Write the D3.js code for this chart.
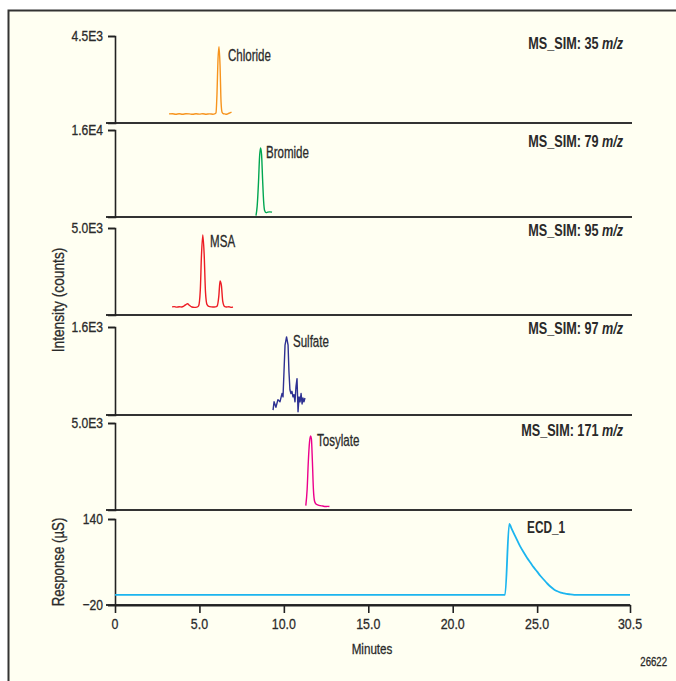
<!DOCTYPE html>
<html><head><meta charset="utf-8">
<script src="https://cdn.jsdelivr.net/npm/d3@7"></script>
<style>
html,body{margin:0;padding:0;background:#fff;}
svg{display:block;}
text{font-family:"Liberation Sans",Arial,sans-serif;fill:#2a2a2a;}
text.reg{stroke:#2a2a2a;stroke-width:0.3px;}
</style></head>
<body>
<svg id="chart" width="676" height="681"></svg>
<script>
// ---------- data ----------
const xTickValues = [0, 5, 10, 15, 20, 25, 30.5];
const xTickLabels = ["0", "5.0", "10.0", "15.0", "20.0", "25.0", "30.5"];

const panelNames = ["Chloride", "Bromide", "MSA", "Sulfate", "Tosylate", "ECD"];
const panelTitles = ["MS_SIM: 35", "MS_SIM: 79", "MS_SIM: 95", "MS_SIM: 97", "MS_SIM: 171", "ECD_1"];
const yMaxLabels = ["4.5E3", "1.6E4", "5.0E3", "1.6E3", "5.0E3", "140"];
const yMinLabels = ["", "", "", "", "", "\u221220"];
const yDomains = [[0, 4500], [0, 16000], [0, 5000], [0, 1600], [0, 5000], [-20, 140]];
const peakLabels = ["Chloride", "Bromide", "MSA", "Sulfate", "Tosylate", ""];
const peakLabelPos = [[6.69, 3520], [8.94, 11950], [5.63, 4250], [10.54, 1345], [11.96, 4020], null];

const chlorideT = [3.2,3.4,3.6,3.8,4.0,4.2,4.4,4.6,4.8,5.0,5.2,5.4,5.6,5.8,5.9,5.98,6.04,6.1,6.16,6.22,6.28,6.34,6.42,6.5,6.6,6.7,6.8,6.9];
const chlorideV = [470,480,455,475,455,480,470,450,475,460,480,455,470,455,470,520,1500,3300,3950,3000,1100,560,480,470,450,490,520,560];

const bromideT = [8.35,8.42,8.5,8.56,8.62,8.68,8.74,8.8,8.86,8.95,9.05,9.15,9.3];
const bromideV = [250,2000,6500,11000,12700,11500,7000,3000,1200,800,900,950,900];

const msaT = [3.38,3.5,3.65,3.8,3.95,4.1,4.2,4.3,4.4,4.55,4.7,4.85,4.95,5.05,5.12,5.2,5.28,5.36,5.45,5.6,5.8,5.95,6.05,6.15,6.22,6.3,6.38,6.48,6.6,6.75,6.9,6.98];
const msaV = [470,480,450,470,460,530,600,650,560,460,440,450,520,1400,3400,4600,3500,1300,600,480,460,470,520,1100,1950,1700,800,500,460,470,440,470];

const sulfateT = [9.36,9.42,9.53,9.65,9.77,9.89,9.95,10.01,10.07,10.16,10.25,10.3,10.36,10.42,10.48,10.54,10.6,10.66,10.72,10.78,10.84,10.9,10.96,11.02,11.08,11.13,11.19,11.25];
const sulfateV = [90,240,140,280,240,390,330,800,1270,1420,1270,800,460,390,430,330,370,240,520,660,60,330,240,390,200,310,240,310];

const tosylateT = [11.3,11.38,11.45,11.52,11.58,11.63,11.69,11.75,11.82,11.9,12.0,12.15,12.3,12.45,12.6,12.7];
const tosylateV = [250,1200,2800,3900,4250,4100,2800,1200,500,350,300,250,230,200,210,200];

const ecdT = [0, 23.1, 23.35, 23.5, 23.7, 23.98, 24.2, 24.4, 24.6, 24.8, 25.0, 25.2, 25.4, 25.6, 25.8, 26.0, 26.2, 26.4, 26.6, 26.9, 27.2, 30.5];
const ecdV = [-1, -1, 131, 121, 108, 90, 78, 68, 59, 50, 42, 34, 27, 20, 14, 9, 5.5, 3, 1.5, 0, -1, -1];

const seriesT = [chlorideT, bromideT, msaT, sulfateT, tosylateT, ecdT];
const seriesV = [chlorideV, bromideV, msaV, sulfateV, tosylateV, ecdV];
const seriesColors = ["#f7941d", "#00a651", "#ed1c24", "#2e3192", "#ec008c", "#1cb5ef"];

// ---------- layout ----------
const svg = d3.select("#chart");
const x0 = 115, x1 = 630;
const panelTop = [36, 130, 228, 327, 423, 519];
const panelBottom = [123, 217, 315, 415, 510, 605];
const titleY = [43, 141, 230, 328, 430, 527];

function ctext(parent, px, py, str, size, sx, anchor, bold, rotate) {
  const t = parent.append("text")
    .attr("transform", `translate(${px},${py})` + (rotate ? " rotate(-90)" : "") + ` scale(${sx},1)`)
    .attr("dy", "0.35em").attr("text-anchor", anchor || "start")
    .style("font-size", size + "px");
  if (bold) t.style("font-weight", "bold"); else t.attr("class", "reg");
  if (str !== null) t.text(str);
  return t;
}

svg.append("rect").attr("x", 8.5).attr("y", 10.5).attr("width", 720).attr("height", 720)
  .attr("fill", "#fffff2").attr("stroke", "#333").attr("stroke-width", 2);

const x = d3.scaleLinear().domain([0, 30.5]).range([x0, x1]);

panelNames.forEach((name, i) => {
  const y = d3.scaleLinear().domain(yDomains[i]).range([panelBottom[i], panelTop[i]]);
  const g = svg.append("g");

  g.append("line").attr("x1", 106).attr("x2", i === 5 ? x1 : 632)
    .attr("y1", panelBottom[i]).attr("y2", panelBottom[i])
    .attr("stroke", "#333").attr("stroke-width", 2);

  const ticks = i === 5 ? yDomains[i] : [yDomains[i][1]];
  const labels = i === 5 ? [yMinLabels[i], yMaxLabels[i]] : [yMaxLabels[i]];
  const ax = g.append("g").attr("transform", `translate(${x0},0)`)
    .call(d3.axisLeft(y).tickValues(ticks).tickFormat("").tickSizeOuter(0).tickSize(7));
  ax.select(".domain").attr("stroke", "#222").attr("stroke-width", 1.6);
  ax.selectAll(".tick line").attr("stroke", "#222").attr("stroke-width", 1.6);
  ticks.forEach((v, k) => ctext(g, x0 - 12, y(v), labels[k], 15.5, 0.78, "end"));

  const data = seriesT[i].map((t, k) => [t, seriesV[i][k]]);
  const line = d3.line().x(d => x(d[0])).y(d => y(d[1]))
    .curve(i === 3 ? d3.curveLinear : d3.curveMonotoneX);
  g.append("path").datum(data).attr("d", line).attr("fill", "none")
    .attr("stroke", seriesColors[i]).attr("stroke-width", i === 5 ? 1.8 : 1.4)
    .attr("stroke-linejoin", "round");

  if (peakLabelPos[i]) {
    ctext(g, x(peakLabelPos[i][0]), y(peakLabelPos[i][1]), peakLabels[i], 16.5, 0.7, "start");
  }

  if (i < 5) {
    const t = ctext(g, 623, titleY[i], null, 16, 0.79, "end", true);
    t.append("tspan").text(panelTitles[i] + " ");
    t.append("tspan").style("font-style", "italic").text("m/z");
  } else {
    ctext(g, 527, titleY[i], panelTitles[i], 16, 0.74, "start", true);
  }
});

// x axis
const xa = svg.append("g").attr("transform", `translate(0,${panelBottom[5]})`)
  .call(d3.axisBottom(x).tickValues(xTickValues).tickFormat("").tickSize(8).tickSizeOuter(0));
xa.select(".domain").attr("stroke", "#222").attr("stroke-width", 2);
xa.selectAll(".tick line").attr("stroke", "#222").attr("stroke-width", 1.6);
xTickValues.forEach((v, k) => ctext(svg, x(v), 624, xTickLabels[k], 15.5, 0.8, "middle"));

// axis titles
ctext(svg, 372, 649, "Minutes", 15.5, 0.75, "middle");
ctext(svg, 58, 300, "Intensity (counts)", 16, 0.86, "middle", false, true);
ctext(svg, 58, 562, "Response (\u00b5S)", 16, 0.83, "middle", false, true);
ctext(svg, 667, 662, "26622", 12, 0.8, "end");
</script>
</body></html>
